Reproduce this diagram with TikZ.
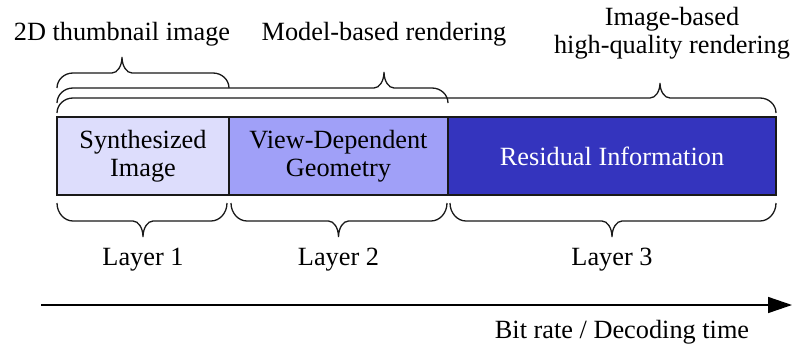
\documentclass[tikz,border=0pt]{standalone}
\usepackage{fontspec}
\setmainfont{Liberation Serif}
\usetikzlibrary{calc,arrows.meta}

\definecolor{layerA}{RGB}{221,221,252}
\definecolor{layerB}{RGB}{160,160,248}
\definecolor{layerC}{RGB}{52,52,190}
\definecolor{ink}{RGB}{25,25,25}

% Curly brace from #1 to #2 with its tip above/below the x of #3.
% #4: rise from the ends to the bar, #5: rise from the bar to the tip (signed, pt).
\newcommand\curlybrace[5]{%
  \draw[brc] let \p1=#1, \p2=#2, \p3=#3 in
    (\x1,\y1) .. controls +(0,{0.55*(#4)}) and +(-8.8pt,0) .. ({\x1+16pt},{\y1+(#4)})
    -- ({\x3-10pt},{\y1+(#4)})
    .. controls +(5.5pt,0) and +(0,{-0.55*(#5)}) .. (\x3,{\y1+(#4)+(#5)})
    .. controls +(0,{-0.55*(#5)}) and +(-5.5pt,0) .. ({\x3+10pt},{\y1+(#4)})
    -- ({\x2-16pt},{\y2+(#4)})
    .. controls +(8.8pt,0) and +(0,{0.55*(#4)}) .. (\x2,\y2);}

\begin{document}
\begin{tikzpicture}[x=1pt,y=-1pt,
  font=\fontsize{26.3}{31}\selectfont,
  cell/.style={draw=ink, line width=1.4pt, inner sep=0pt, outer sep=0pt,
               anchor=north west, minimum height=78pt, align=center},
  lbl/.style={inner sep=0pt, anchor=base},
  brc/.style={draw=ink, line width=1.3pt},
  axis/.style={draw=black, line width=1.5pt, -{Triangle[length=24pt,width=16pt]}}]

\useasboundingbox (0,0) rectangle (795,346);

% the three layers of the stream
\node[cell, fill=layerA, minimum width=172pt] (L1) at (57,117) {\raisebox{-2pt}{\shortstack{Synthesized\\[2pt]Image}}};
\node[cell, fill=layerB, minimum width=219pt] (L2) at (L1.north east) {\raisebox{-2pt}{\shortstack{View-Dependent\\[2pt]Geometry}}};
\node[cell, fill=layerC, minimum width=328pt, text=white] (L3) at (L2.north east) {Residual Information};

% what each prefix of the stream allows
\node[lbl] (t1) at (122,40) {2D thumbnail image};
\node[lbl] (t2) at (384,40) {Model-based rendering};
\node[inner sep=0pt, align=center, font=\fontsize{26.3}{28}\selectfont] (t3) at (672,33)
  {Image-based\\high-quality rendering};

\coordinate (b1s) at ($(L1.north west)+(0,-29)$);
\coordinate (b1e) at ($(L1.north east)+(0,-29)$);
\coordinate (b2s) at ($(L1.north west)+(0,-14)$);
\coordinate (b2e) at ($(L2.north east)+(0,-14)$);
\coordinate (b3s) at ($(L1.north west)+(0,-4)$);
\coordinate (b3e) at ($(L3.north east)+(0,-4)$);
\curlybrace{(b1s)}{(b1e)}{(t1)}{15pt}{16pt}
\curlybrace{(b2s)}{(b2e)}{(t2)}{15pt}{16pt}
\curlybrace{(b3s)}{(b3e)}{($(t3)+(-12,0)$)}{15pt}{15pt}

% layer labels
\node[lbl] (l1) at ($(L1.south)+(0,70)$) {Layer 1};
\node[lbl] (l2) at ($(L2.south)+(0,70)$) {Layer 2};
\node[lbl] (l3) at ($(L3.south)+(0,70)$) {Layer 3};

\coordinate (u1s) at ($(L1.south west)+(0,8)$);
\coordinate (u1e) at ($(L1.south east)+(-2,8)$);
\coordinate (u2s) at ($(L2.south west)+(2,8)$);
\coordinate (u2e) at ($(L2.south east)+(-1,8)$);
\coordinate (u3s) at ($(L3.south west)+(2,8)$);
\coordinate (u3e) at ($(L3.south east)+(0,8)$);
\curlybrace{(u1s)}{(u1e)}{(l1)}{-18pt}{-16pt}
\curlybrace{(u2s)}{(u2e)}{(l2)}{-18pt}{-16pt}
\curlybrace{(u3s)}{(u3e)}{(l3)}{-18pt}{-16pt}

% axis
\coordinate (ax0) at (41,305);
\coordinate (ax1) at (792,305);
\draw[axis] (ax0) -- (ax1);
\node[lbl] (axl) at (622,338.5) {Bit rate / Decoding time};
\end{tikzpicture}
\end{document}
